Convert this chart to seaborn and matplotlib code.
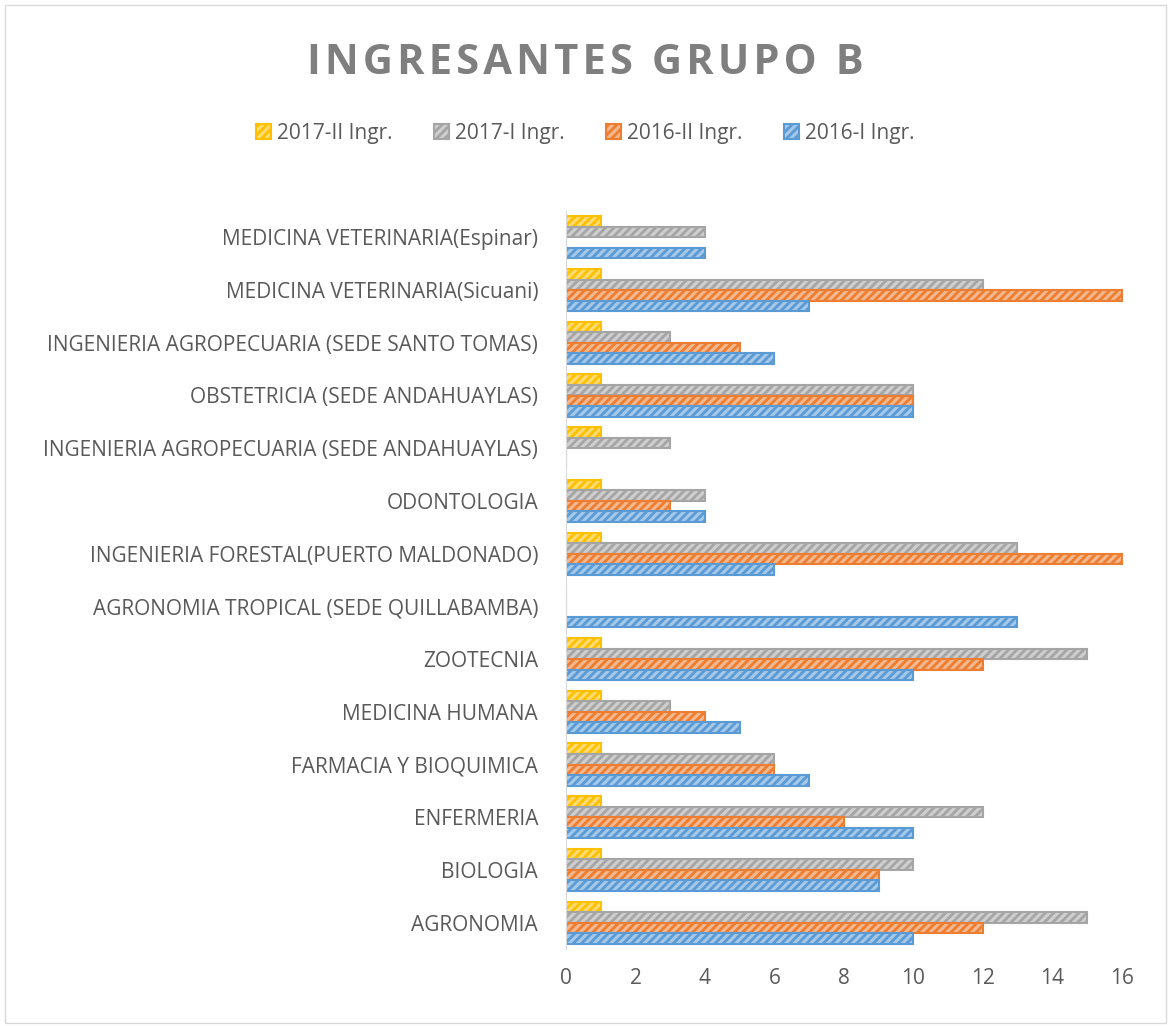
import matplotlib
matplotlib.use("Agg")
import matplotlib.pyplot as plt
import matplotlib.colors as mcolors
import pandas as pd
import seaborn as sns

careers = [
    "MEDICINA VETERINARIA(Espinar)",
    "MEDICINA VETERINARIA(Sicuani)",
    "INGENIERIA AGROPECUARIA (SEDE SANTO TOMAS)",
    "OBSTETRICIA (SEDE ANDAHUAYLAS)",
    "INGENIERIA AGROPECUARIA (SEDE ANDAHUAYLAS)",
    "ODONTOLOGIA",
    "INGENIERIA FORESTAL(PUERTO MALDONADO)",
    "AGRONOMIA TROPICAL (SEDE QUILLABAMBA)",
    "ZOOTECNIA",
    "MEDICINA HUMANA",
    "FARMACIA Y BIOQUIMICA",
    "ENFERMERIA",
    "BIOLOGIA",
    "AGRONOMIA",
]
series = ["2017-II Ingr.", "2017-I Ingr.", "2016-II Ingr.", "2016-I Ingr."]
ingr_2017_ii = [1, 1, 1, 1, 1, 1, 1, 0, 1, 1, 1, 1, 1, 1]
ingr_2017_i = [4, 12, 3, 10, 3, 4, 13, 0, 15, 3, 6, 12, 10, 15]
ingr_2016_ii = [0, 16, 5, 10, 0, 3, 16, 0, 12, 4, 6, 8, 9, 12]
ingr_2016_i = [4, 7, 6, 10, 0, 4, 6, 13, 10, 5, 7, 10, 9, 10]
colors = ["#FFC000", "#A5A5A5", "#ED7D31", "#5B9BD5"]
title = "INGRESANTES GRUPO B"

rows = []
for name, vals in zip(series, [ingr_2017_ii, ingr_2017_i, ingr_2016_ii, ingr_2016_i]):
    for c, v in zip(careers, vals):
        rows.append({"carrera": c, "serie": name, "valor": v})
df = pd.DataFrame(rows)

sns.set_style("white")
plt.rcParams["font.family"] = ["Open Sans", "DejaVu Sans"]
plt.rcParams["hatch.linewidth"] = 2.0

W, H = 1171, 1026
fig = plt.figure(figsize=(W / 100, H / 100), dpi=100)
ax_left, ax_top, ax_w, ax_h = 566, 211, 573, 738
ax = fig.add_axes([ax_left / W, 1 - (ax_top + ax_h) / H, ax_w / W, ax_h / H])

sns.barplot(data=df, y="carrera", x="valor", hue="serie", order=careers,
            hue_order=series, palette=colors, orient="h", width=0.8,
            ax=ax, legend=False)

for cont, col in zip(ax.containers, colors):
    tint = mcolors.to_rgb(col)
    tint = tuple(0.55 * t + 0.45 for t in tint)
    for p in cont.patches:
        p.set_facecolor(tint)
        p.set_edgecolor(col)
        p.set_hatch("////")
        p.set_linewidth(1.5)

ax.set_xlim(0, 16.5)
ax.set_xticks(range(0, 17, 2))
ax.set_xlabel("")
ax.set_ylabel("")
ax.tick_params(axis="both", length=0, labelsize=15, labelcolor="#595959")
ax.tick_params(axis="y", pad=20)
ax.tick_params(axis="x", pad=14)
for s in ["top", "right", "bottom"]:
    ax.spines[s].set_visible(False)
ax.spines["left"].set_color("#D9D9D9")

ax.legend(handles=ax.containers, labels=series, ncol=4, frameon=False,
          loc="center", bbox_to_anchor=(0.5, 1 - 133 / H),
          bbox_transform=fig.transFigure,
          fontsize=15, labelcolor="#595959", handlelength=0.7,
          handleheight=0.7, columnspacing=2.0, handletextpad=0.3)

# slight letter spacing, like the original chart title
spaced = "\u200a".join(title)
fig.text(0.5, 1 - 63 / H, spaced,
         ha="center", va="center", fontsize=30, fontweight="bold",
         color="#7F7F7F")

fig.patches.append(plt.Rectangle((0.004, 0.003), 0.992, 0.992,
                                 transform=fig.transFigure, fill=False,
                                 edgecolor="#D9D9D9", linewidth=1))

fig.savefig("out.png", dpi=100)
